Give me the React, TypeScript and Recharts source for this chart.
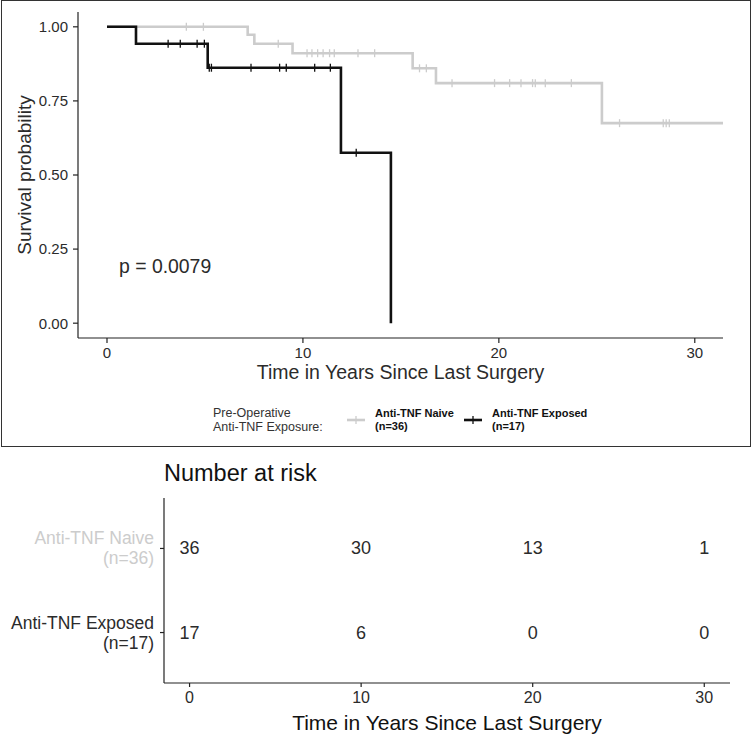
import React from 'react';
import { ComposedChart, ScatterChart, Line, Scatter, XAxis, YAxis } from 'recharts';

const FONT = '"Liberation Sans", Arial, Helvetica, sans-serif';
const GREY = '#cccccc';
const BLACK = '#111111';
const TEXT = '#2b2b2b';

// Kaplan-Meier steps: time (years) and survival after each step
const naiveTimes = [0, 7.18, 7.52, 9.47, 15.6, 16.79, 25.26, 31.44];
const naiveSurv = [1, 0.973, 0.943, 0.911, 0.86, 0.81, 0.675, 0.675];
const exposedTimes = [0, 1.48, 5.14, 11.94, 14.49];
const exposedSurv = [1, 0.943, 0.862, 0.575, 0];

// censored observations (+ marks)
const naiveCensorTimes = [
  4.05, 4.92, 8.74, 10.21, 10.46, 10.75, 11.03, 11.36, 11.6, 12.81, 13.66, 15.95, 16.3,
  17.61, 19.78, 20.55, 21.13, 21.72, 21.86, 22.37, 23.7, 26.16, 28.39, 28.54, 28.7,
];
const naiveCensorSurv = [
  1, 1, 0.943, 0.911, 0.911, 0.911, 0.911, 0.911, 0.911, 0.911, 0.911, 0.86, 0.86,
  0.81, 0.81, 0.81, 0.81, 0.81, 0.81, 0.81, 0.81, 0.675, 0.675, 0.675, 0.675,
];
const exposedCensorTimes = [3.12, 3.74, 4.6, 4.97, 5.22, 5.33, 7.35, 8.81, 9.15, 10.6, 11.4, 12.72];
const exposedCensorSurv = [0.943, 0.943, 0.943, 0.943, 0.862, 0.862, 0.862, 0.862, 0.862, 0.862, 0.862, 0.575];

// number at risk table
const riskTimes = [0, 10, 20, 30];
const naiveAtRisk = [36, 30, 13, 1];
const exposedAtRisk = [17, 6, 0, 0];

const xTicks = [0, 10, 20, 30];
const yTicks = [0, 0.25, 0.5, 0.75, 1];

const toPoints = (ts: number[], ss: number[]) => ts.map((t, i) => ({ t, s: ss[i] }));

const naiveCurve = toPoints(naiveTimes, naiveSurv);
const exposedCurve = toPoints(exposedTimes, exposedSurv);
const naiveCensors = toPoints(naiveCensorTimes, naiveCensorSurv);
const exposedCensors = toPoints(exposedCensorTimes, exposedCensorSurv);

const naiveRisk = riskTimes.map((t, i) => ({ t, row: 2, n: naiveAtRisk[i] }));
const exposedRisk = riskTimes.map((t, i) => ({ t, row: 1, n: exposedAtRisk[i] }));

const censorMark = (color: string) => (props: any) => {
  const { cx, cy } = props;
  return (
    <g>
      <line x1={cx} x2={cx} y1={cy - 4} y2={cy + 4} stroke={color} strokeWidth={1.3} />
    </g>
  );
};

const riskCount = (props: any) => {
  const { cx, cy, payload } = props;
  return (
    <text x={cx} y={cy} textAnchor="middle" dominantBaseline="central" fontSize={18} fill={TEXT} fontFamily={FONT}>
      {payload.n}
    </text>
  );
};

const RiskTick = (props: any) => {
  const { x, y, payload } = props;
  const naive = payload.value === 2;
  const color = naive ? GREY : TEXT;
  return (
    <g>
      <text x={x} y={y - 10} textAnchor="end" dominantBaseline="central" fontSize={17.5} fill={color} fontFamily={FONT}>
        {naive ? 'Anti-TNF Naive' : 'Anti-TNF Exposed'}
      </text>
      <text x={x} y={y + 10} textAnchor="end" dominantBaseline="central" fontSize={17.5} fill={color} fontFamily={FONT}>
        {naive ? '(n=36)' : '(n=17)'}
      </text>
    </g>
  );
};

const LegendKey = ({ color }: { color: string }) => (
  <svg width={20} height={12} style={{ display: 'block' }}>
    <line x1={1} x2={19} y1={6} y2={6} stroke={color} strokeWidth={2.6} />
    <line x1={10} x2={10} y1={2} y2={10} stroke={color} strokeWidth={1.3} />
  </svg>
);

export default function App() {
  const axisLine = { stroke: '#222', strokeWidth: 1.2 };
  return (
    <div style={{ position: 'absolute', left: 0, top: 0, width: 752, height: 737, background: '#fff', fontFamily: FONT }}>
      {/* framed survival plot */}
      <div
        style={{
          position: 'absolute', left: 1, top: 0, width: 750, height: 447,
          border: '1.5px solid #333', boxSizing: 'border-box',
        }}
      />
      <div style={{ position: 'absolute', left: 0, top: 0 }}>
        <ComposedChart width={752} height={392} margin={{ top: 12, right: 29, bottom: 0, left: 0 }}>
          <XAxis
            type="number"
            dataKey="t"
            domain={[-1.48, 31.44]}
            allowDataOverflow
            ticks={xTicks}
            height={54}
            tickSize={5}
            tickMargin={4}
            axisLine={axisLine}
            tickLine={axisLine}
            tick={{ fill: TEXT, fontSize: 15, fontFamily: FONT }}
            label={{ value: 'Time in Years Since Last Surgery', position: 'insideBottom', offset: 13, fill: TEXT, fontSize: 19.5, fontFamily: FONT }}
          />
          <YAxis
            type="number"
            dataKey="s"
            domain={[-0.05, 1.05]}
            allowDataOverflow
            ticks={yTicks}
            tickFormatter={(v: number) => v.toFixed(2)}
            width={78}
            tickSize={5}
            tickMargin={5}
            axisLine={axisLine}
            tickLine={axisLine}
            tick={{ fill: TEXT, fontSize: 15, fontFamily: FONT }}
            label={{
              value: 'Survival probability', angle: -90, position: 'insideLeft', offset: 24,
              fill: TEXT, fontSize: 19, fontFamily: FONT, style: { textAnchor: 'middle' },
            }}
          />
          <Line data={naiveCurve} dataKey="s" type="stepAfter" stroke={GREY} strokeWidth={2.6} dot={false} isAnimationActive={false} />
          <Scatter data={naiveCensors} dataKey="s" shape={censorMark(GREY)} isAnimationActive={false} />
          <Line data={exposedCurve} dataKey="s" type="stepAfter" stroke={BLACK} strokeWidth={2.6} dot={false} isAnimationActive={false} />
          <Scatter data={exposedCensors} dataKey="s" shape={censorMark(BLACK)} isAnimationActive={false} />
        </ComposedChart>
      </div>
      <div style={{ position: 'absolute', left: 119, top: 257, fontSize: 19.4, lineHeight: 1, color: TEXT }}>p = 0.0079</div>

      {/* legend */}
      <div style={{ position: 'absolute', left: 213, top: 406, fontSize: 12.5, lineHeight: '14px', color: '#333' }}>
        Pre-Operative<br />Anti-TNF Exposure:
      </div>
      <div style={{ position: 'absolute', left: 346, top: 414 }}><LegendKey color={GREY} /></div>
      <div style={{ position: 'absolute', left: 375, top: 407, fontSize: 11, lineHeight: '13px', fontWeight: 'bold', color: '#111' }}>
        Anti-TNF Naive<br />(n=36)
      </div>
      <div style={{ position: 'absolute', left: 463, top: 414 }}><LegendKey color={BLACK} /></div>
      <div style={{ position: 'absolute', left: 492, top: 407, fontSize: 11, lineHeight: '13px', fontWeight: 'bold', color: '#111' }}>
        Anti-TNF Exposed<br />(n=17)
      </div>

      {/* risk table */}
      <div style={{ position: 'absolute', left: 164, top: 462, fontSize: 23.5, lineHeight: 1, color: '#111' }}>Number at risk</div>
      <div style={{ position: 'absolute', left: 0, top: 450 }}>
        <ScatterChart width={752} height={287} margin={{ top: 48, right: 22, bottom: 0, left: 0 }}>
          <XAxis
            type="number"
            dataKey="t"
            domain={[-1.49, 31.5]}
            allowDataOverflow
            ticks={riskTimes}
            height={54}
            tickSize={4}
            tickMargin={5}
            axisLine={axisLine}
            tickLine={axisLine}
            tick={{ fill: TEXT, fontSize: 16, fontFamily: FONT }}
            label={{ value: 'Time in Years Since Last Surgery', position: 'insideBottom', offset: 7, fill: '#111', fontSize: 21, fontFamily: FONT }}
          />
          <YAxis
            type="number"
            dataKey="row"
            domain={[0.4, 2.6]}
            allowDataOverflow
            ticks={[1, 2]}
            width={164}
            tickSize={4}
            tickMargin={6}
            axisLine={axisLine}
            tickLine={axisLine}
            tick={<RiskTick />}
          />
          <Scatter data={naiveRisk} shape={riskCount} isAnimationActive={false} />
          <Scatter data={exposedRisk} shape={riskCount} isAnimationActive={false} />
        </ScatterChart>
      </div>
    </div>
  );
}
